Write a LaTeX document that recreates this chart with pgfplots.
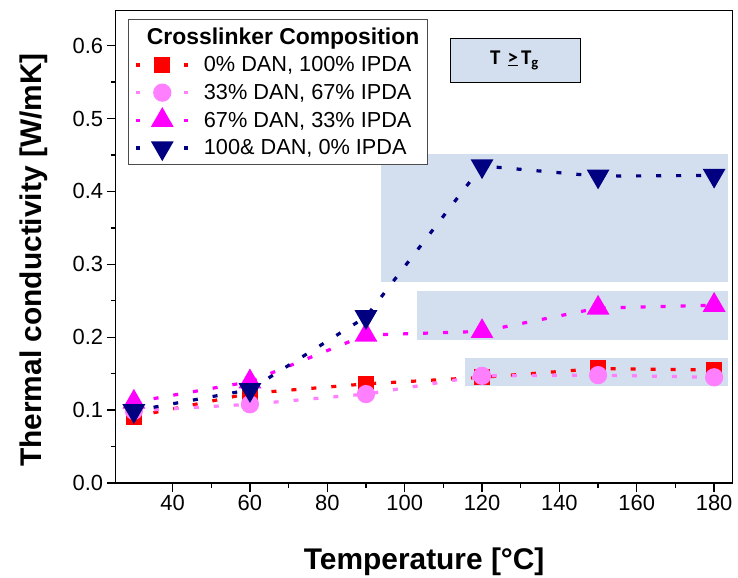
\documentclass[border=0pt]{standalone}
\usepackage{fontspec}
\setmainfont{Liberation Sans}
\newfontfamily\calib{Carlito}
\usepackage{pgfplots}
\pgfplotsset{compat=1.18}
\definecolor{tgblue}{RGB}{211,223,239}
\definecolor{pinkc}{RGB}{255,128,255}
\definecolor{magc}{RGB}{255,0,255}
\definecolor{redc}{RGB}{255,0,0}
\definecolor{navyc}{RGB}{0,0,128}
\begin{document}
\begin{tikzpicture}
\useasboundingbox (-115.7bp,-95bp) rectangle (622.3bp,483bp);
\begin{axis}[
  at={(0,0)}, anchor=south west,
  scale only axis, width=617bp, height=472.3bp,
  xmin=25.3, xmax=184.8, ymin=0, ymax=0.648,
  xtick={40,60,80,100,120,140,160,180},
  ytick={0,0.1,0.2,0.3,0.4,0.5,0.6},
  minor x tick num=1, minor y tick num=1,
  tick align=outside, tick pos=left,
  major tick length=9bp, minor tick length=5bp,
  axis line style={line width=1.3bp},
  tick style={line width=1.3bp, black},
  /pgf/number format/assume math mode=true,
  ticklabel style={font=\fontsize{22}{26}\selectfont},
  yticklabel style={/pgf/number format/.cd, fixed, fixed zerofill, precision=1},
  xlabel={\textbf{Temperature [°C]}},
  ylabel={\textbf{Thermal conductivity [W/mK]}},
  label style={font=\fontsize{30}{36}\selectfont},
  xlabel style={at={(axis description cs:0.5,-0.184)}, anchor=base, inner sep=0pt},
  ylabel style={at={(axis description cs:-0.1195,0.472)}, anchor=base, inner sep=0pt},
  legend style={at={(rel axis cs:0.0204,0.982)}, anchor=north west,
    draw=gray!60!black, line width=0.8bp,
    font=\fontsize{21.8}{26}\selectfont, row sep=7bp,
    inner xsep=6bp, inner ysep=6bp, cells={anchor=west}},
  legend image code/.code={\draw[mark repeat=2,mark phase=2,#1,dash pattern=on 4bp off 44bp]
     plot coordinates {(0bp,0bp)(26bp,0bp)(52bp,0bp)};},
]
\fill[tgblue] (axis cs:93.9,0.276) rectangle (axis cs:183.6,0.452);
\fill[tgblue] (axis cs:103.3,0.196) rectangle (axis cs:183.6,0.263);
\fill[tgblue] (axis cs:115.6,0.133) rectangle (axis cs:183.6,0.171);
\draw[fill=tgblue, line width=0.8bp] (axis cs:111.9,0.5497) rectangle (axis cs:145.4,0.610);
\node[font=\calib\bfseries\fontsize{21}{24}\selectfont] at (axis cs:128.4,0.580) {T\hspace{7bp}\underline{>}\hspace{3bp}T\textsubscript{g}};

\addlegendimage{empty legend}
\addlegendentry{\hspace*{-45bp}\fontsize{23}{27}\selectfont\textbf{Crosslinker Composition}}

\addplot[redc, line width=3.2bp, dash pattern=on 5bp off 15bp, mark=square*, mark size=6.5bp, mark options={solid}]
  coordinates {(30,0.091) (60,0.123) (90,0.136) (120,0.145) (150,0.157) (180,0.155)};
\addlegendentry{\hspace*{12bp}0\% DAN, 100\% IPDA}
\addplot[pinkc, line width=3.2bp, dash pattern=on 5bp off 15bp, mark=*, mark size=7.5bp, mark options={solid}]
  coordinates {(30,0.099) (60,0.108) (90,0.122) (120,0.147) (150,0.148) (180,0.145)};
\addlegendentry{\hspace*{12bp}33\% DAN, 67\% IPDA}
\addplot[magc, line width=3.2bp, dash pattern=on 5bp off 15bp, mark=triangle*, mark size=10bp, mark options={solid}]
  coordinates {(30,0.111) (60,0.139) (90,0.203) (120,0.208) (150,0.240) (180,0.244)};
\addlegendentry{\hspace*{12bp}67\% DAN, 33\% IPDA}
\addplot[navyc, line width=3.2bp, dash pattern=on 5bp off 15bp, mark=triangle*, mark size=10bp, mark options={solid, rotate=180}]
  coordinates {(30,0.099) (60,0.128) (90,0.228) (120,0.435) (150,0.421) (180,0.422)};
\addlegendentry{\hspace*{12bp}100\& DAN, 0\% IPDA}
\end{axis}
\end{tikzpicture}
\end{document}
